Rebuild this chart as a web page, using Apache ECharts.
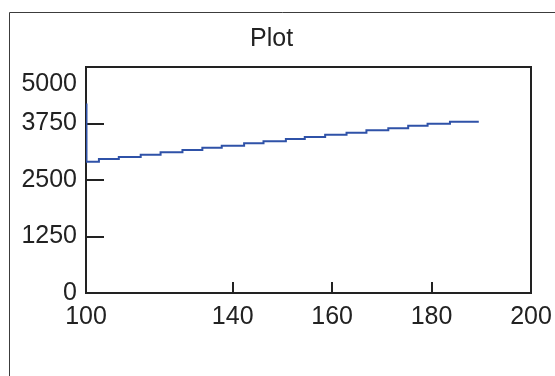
<!DOCTYPE html>
<html>
<head>
<meta charset="utf-8">
<title>Plot</title>
<script src="https://cdn.jsdelivr.net/npm/echarts@6/dist/echarts.min.js"></script>
<style>
  html, body { margin: 0; padding: 0; background: #ffffff; }
  #chart { width: 555px; height: 376px; }
</style>
</head>
<body>
<div id="chart"></div>
<script>
// x where each level starts / ends, and the level reached there (step at the start)
const stepX = [110.6, 113.1, 117.1, 121.5, 125.5, 129.9, 133.9, 137.8, 142.3, 146.2,
  150.7, 154.5, 158.6, 162.9, 166.9, 171.3, 175.3, 179.2, 183.7, 189.5];
const stepY = [4190, 2904, 2964, 3008, 3059, 3112, 3163, 3214, 3258, 3311,
  3355, 3406, 3451, 3502, 3546, 3599, 3643, 3701, 3745, 3789];

// axes
const xMin = 110.5;
const xMax = 200;
const xTickValues = [140, 160, 180];
const xLabelValues = [110.5, 140, 160, 180, 200];
const xLabelText = ['100', '140', '160', '180', '200'];
const yMin = 0;
const yMax = 5000;
const yInterval = 1250;

const FONT = '"Liberation Sans", Arial, sans-serif';
const INK = '#222222';
const LINE = '#2f52a8';

const myChart = echarts.init(document.getElementById('chart'), null, { renderer: 'canvas' });

// closest label for a custom label value
const xLabelFor = (v) => {
  let best = 0;
  xLabelValues.forEach((lv, i) => {
    if (Math.abs(lv - v) < Math.abs(xLabelValues[best] - v)) best = i;
  });
  return xLabelText[best];
};

// the line series drops steps under 2px, so draw the staircase as one polyline
const renderSteps = (params, api) => {
  if (params.dataIndex !== 0) return null;
  const pts = [api.coord([stepX[0], stepY[0]])];
  for (let i = 1; i < stepX.length; i++) {
    pts.push(api.coord([stepX[i - 1], stepY[i]]));
    pts.push(api.coord([stepX[i], stepY[i]]));
  }
  return {
    type: 'polyline',
    shape: { points: pts },
    style: { stroke: LINE, lineWidth: 2, fill: null, lineJoin: 'miter' }
  };
};

const option = {
  animation: false,
  backgroundColor: '#ffffff',
  title: {
    text: 'Plot',
    left: 245,
    top: 22,
    textStyle: { color: INK, fontFamily: FONT, fontSize: 25, fontWeight: 'normal' }
  },
  graphic: [
    {
      // outer frame, runs off the right and bottom edges
      type: 'rect',
      z: -1,
      shape: { x: 9.5, y: 12.5, width: 600, height: 400 },
      style: { fill: null, stroke: '#3c3c3c', lineWidth: 1 }
    }
  ],
  grid: {
    left: 86,
    right: 24,
    top: 67,
    bottom: 83,
    show: true,
    borderColor: INK,
    borderWidth: 2,
    backgroundColor: 'transparent'
  },
  xAxis: {
    type: 'value',
    min: xMin,
    max: xMax,
    axisLine: { show: false },
    splitLine: { show: false },
    axisTick: {
      inside: true,
      length: 11,
      customValues: xTickValues,
      lineStyle: { color: INK, width: 2 }
    },
    axisLabel: {
      customValues: xLabelValues,
      formatter: xLabelFor,
      margin: 12,
      color: INK,
      fontFamily: FONT,
      fontSize: 25
    }
  },
  yAxis: {
    type: 'value',
    min: yMin,
    max: yMax,
    interval: yInterval,
    axisLine: { show: false },
    splitLine: { show: false },
    axisTick: {
      inside: true,
      length: 18,
      lineStyle: { color: INK, width: 2 }
    },
    axisLabel: {
      // top label sits a little inside the box, as in the original
      formatter: (v) => (v === yMax ? '{max|' + v + '}' : String(v)),
      rich: {
        max: { padding: [5, 0, 0, 0], color: INK, fontFamily: FONT, fontSize: 25 }
      },
      margin: 9,
      color: INK,
      fontFamily: FONT,
      fontSize: 25,
      verticalAlignMaxLabel: 'top'
    }
  },
  series: [
    {
      type: 'custom',
      renderItem: renderSteps,
      clip: true,
      data: stepX.map((x, i) => [x, stepY[i]])
    }
  ]
};

myChart.setOption(option);
</script>
</body>
</html>
